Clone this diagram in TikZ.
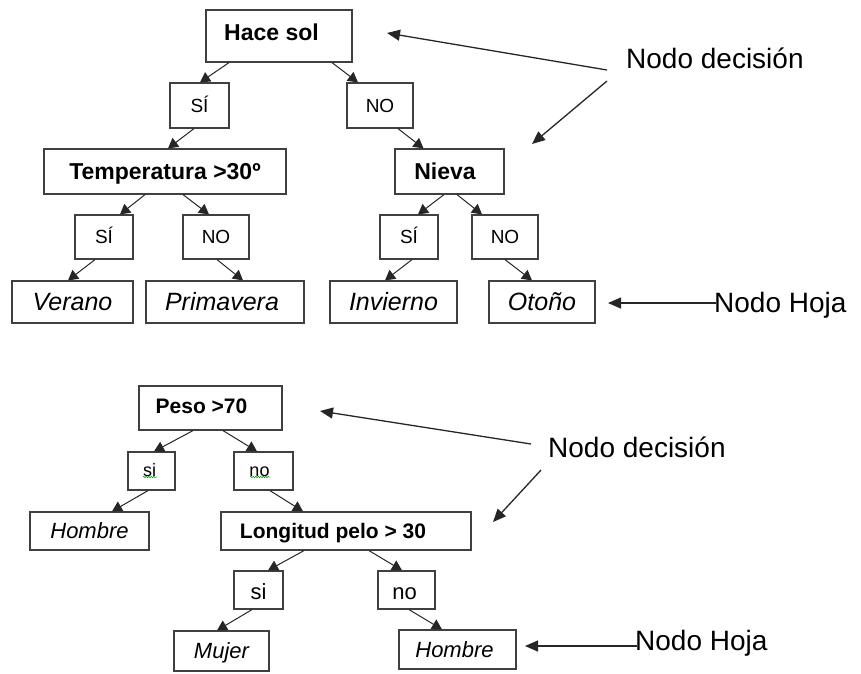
\documentclass[tikz,border=0pt]{standalone}
\usepackage{fontspec}
\setmainfont{Liberation Sans}
\usetikzlibrary{arrows.meta,calc,decorations.pathmorphing}
\newcommand\fsz[1]{\fontsize{#1}{#1}\selectfont}
\begin{document}
\begin{tikzpicture}[x=1pt,y=-1pt,
  box/.style={draw=black!75, line width=1.2pt, inner sep=0pt, anchor=center, text depth=0pt},
  dec/.style={box, font=\fsz{23}\bfseries, text height=16.5pt},
  decb/.style={box, font=\fsz{21}\bfseries, text height=15pt},
  lab/.style={box, font=\fsz{19}, text height=13.6pt},
  labs/.style={box, font=\fsz{18}, text height=10.5pt},
  labb/.style={box, font=\fsz{22}, text height=18pt},
  leaf/.style={box, font=\fsz{25}\itshape, text height=17.9pt},
  leafb/.style={box, font=\fsz{22}\itshape, text height=15.8pt},
  note/.style={inner sep=0pt, anchor=base west, font=\fsz{28}},
  tarrow/.style={-{Triangle[length=10pt,width=11pt]}, line width=1pt, black!85},
  aarrow/.style={-{Triangle[length=13pt,width=11pt]}, line width=1.3pt, black!85},
  squig/.style={green!60!black, line width=0.5pt, decorate, decoration={snake, amplitude=0.8pt, segment length=2.5pt}}
]
\useasboundingbox (0,0) rectangle (861,673);

% ---------- top tree ----------
\node[dec, minimum width=146pt, minimum height=52pt, text depth=8pt] (hace) at (279,36) {Hace sol\hspace*{15pt}};
\node[lab, minimum width=59pt, minimum height=45pt] (si1) at (199.5,105.5) {SÍ};
\node[lab, minimum width=66pt, minimum height=45pt] (no1) at (380,105.5) {NO};
\node[dec, minimum width=242pt, minimum height=45pt] (temp) at (165,171.5) {Temperatura >30º};
\node[dec, minimum width=109pt, minimum height=45pt] (nieva) at (449.5,171.5) {Nieva\hspace*{9pt}};
\node[lab, minimum width=58pt, minimum height=44pt] (si2) at (104,237) {SÍ};
\node[lab, minimum width=66pt, minimum height=44pt] (no2) at (216,237) {NO};
\node[lab, minimum width=58pt, minimum height=44pt] (si3) at (409,237) {SÍ};
\node[lab, minimum width=66pt, minimum height=44pt] (no3) at (505,237) {NO};
\node[leaf, minimum width=121pt, minimum height=42pt] (verano) at (72.5,302) {Verano};
\node[leaf, minimum width=158pt, minimum height=42pt] (prim) at (225,302) {Primavera\hspace*{6pt}};
\node[leaf, minimum width=127pt, minimum height=42pt] (inv) at (393.5,302) {Invierno};
\node[leaf, minimum width=106pt, minimum height=42pt] (oto) at (542,302) {Otoño};

\draw[tarrow] ([xshift=-50pt]hace.south) -- ([xshift=0.5pt]si1.north);
\draw[tarrow] ([xshift=53pt]hace.south) -- ([xshift=-22pt]no1.north);
\draw[tarrow] ([xshift=-5.5pt]si1.south) -- ([xshift=3pt]temp.north);
\draw[tarrow] ([xshift=18pt]no1.south) -- ([xshift=-26pt]nieva.north);
\draw[tarrow] ([xshift=-20pt]temp.south) -- ([xshift=16pt]si2.north);
\draw[tarrow] ([xshift=18pt]temp.south) -- ([xshift=-7pt]no2.north);
\draw[tarrow] ([xshift=-9pt]si2.south) -- ([xshift=-4.5pt]verano.north);
\draw[tarrow] ([xshift=1pt]no2.south) -- ([xshift=18pt]prim.north);
\draw[tarrow] ([xshift=-5.5pt]nieva.south) -- ([xshift=9pt]si3.north);
\draw[tarrow] ([xshift=7.5pt]nieva.south) -- ([xshift=-23pt]no3.north);
\draw[tarrow] ([xshift=3pt]si3.south) -- ([xshift=-8.5pt]inv.north);
\draw[tarrow] (no3.south) -- ([xshift=-10pt]oto.north);

% annotations top
\node[note] (nd1) at (626,68) {Nodo decisión};
\node[note] (nh1) at (714,312) {Nodo Hoja};
\coordinate (d1a) at (607,70);
\coordinate (d1b) at (387,33);
\coordinate (d2a) at (607,81);
\coordinate (d2b) at (532,144);
\coordinate (h1a) at (716,303);
\coordinate (h1b) at (608,303);
\draw[aarrow] (d1a) -- (d1b);
\draw[aarrow] (d2a) -- (d2b);
\draw[aarrow] (h1a) -- (h1b);

% ---------- bottom tree ----------
\node[decb, minimum width=143pt, minimum height=44pt, text depth=4pt] (peso) at (210.5,408) {Peso >70\hspace*{18pt}};
\node[labs, minimum width=47pt, minimum height=38pt] (bsi) at (151.5,471) {si\hspace*{4pt}};
\node[labs, minimum width=59pt, minimum height=38pt] (bno) at (263.5,471) {no\hspace*{8pt}};
\node[leafb, minimum width=119pt, minimum height=38pt] (hom1) at (89.5,531) {Hombre};
\node[decb, minimum width=250pt, minimum height=38pt] (long) at (346,531) {Longitud pelo > 30\hspace*{26pt}};
\node[labb, minimum width=49pt, minimum height=38pt] (bsi2) at (258.5,590) {si};
\node[labb, minimum width=57pt, minimum height=38pt] (bno2) at (406.5,590) {no\hspace*{4pt}};
\node[leafb, minimum width=95pt, minimum height=40pt] (mujer) at (221.5,651) {Mujer};
\node[leafb, minimum width=117pt, minimum height=39pt] (hom2) at (457.5,649.5) {Hombre\hspace*{6pt}};

\draw[squig] ([xshift=-8.5pt,yshift=-6pt]bsi.center) -- ++(14pt,0);
\draw[squig] ([xshift=-13.5pt,yshift=-6pt]bno.center) -- ++(20pt,0);

\draw[tarrow] ([xshift=-17.5pt]peso.south) -- ([xshift=2.5pt]bsi.north);
\draw[tarrow] ([xshift=12.5pt]peso.south) -- ([xshift=-6.5pt]bno.north);
\draw[tarrow] ([xshift=-3.5pt]bsi.south) -- ([xshift=22.5pt]hom1.north);
\draw[tarrow] ([xshift=6.5pt]bno.south) -- ([xshift=-43pt]long.north);
\draw[tarrow] ([xshift=-42pt]long.south) -- ([xshift=9.5pt]bsi2.north);
\draw[tarrow] ([xshift=23pt]long.south) -- ([xshift=-4.5pt]bno2.north);
\draw[tarrow] ([xshift=-6.5pt]bsi2.south) -- ([xshift=-4.5pt]mujer.north);
\draw[tarrow] ([xshift=2.5pt]bno2.south) -- ([xshift=-15.5pt]hom2.north);

% annotations bottom
\node[note] (nd2) at (548,457) {Nodo decisión};
\node[note] (nh2) at (635,650) {Nodo Hoja};
\coordinate (d3a) at (531,444);
\coordinate (d3b) at (320,411);
\coordinate (d4a) at (541,470);
\coordinate (d4b) at (493,522);
\coordinate (h2a) at (637,646);
\coordinate (h2b) at (525,646);
\draw[aarrow] (d3a) -- (d3b);
\draw[aarrow] (d4a) -- (d4b);
\draw[aarrow] (h2a) -- (h2b);
\end{tikzpicture}
\end{document}
